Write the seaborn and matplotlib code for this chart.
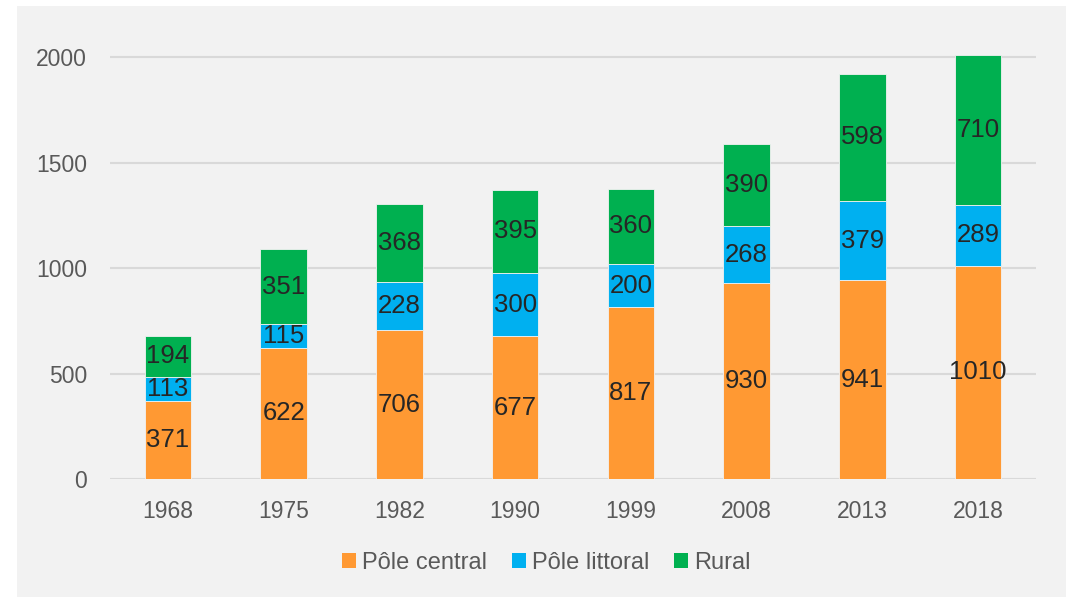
import matplotlib
matplotlib.use("Agg")
import matplotlib.pyplot as plt
from matplotlib.patches import Rectangle, Patch
import seaborn as sns
import pandas as pd

years = ["1968", "1975", "1982", "1990", "1999", "2008", "2013", "2018"]
pole_central = [371, 622, 706, 677, 817, 930, 941, 1010]
pole_littoral = [113, 115, 228, 300, 200, 268, 379, 289]
rural = [194, 351, 368, 395, 360, 390, 598, 710]
series_names = ["Pôle central", "Pôle littoral", "Rural"]
colors = ["#FF9933", "#00B0F0", "#00B050"]
yticks = [0, 500, 1000, 1500, 2000]

sns.set_theme(style="white")
plt.rcParams["font.family"] = ["Liberation Sans", "DejaVu Sans"]

fig = plt.figure(figsize=(10.71, 5.97), dpi=100)
fig.patch.set_facecolor("white")
bg = Rectangle((17 / 1071, 0), (1066 - 17) / 1071, 1 - 6 / 597,
               transform=fig.transFigure, facecolor="#F2F2F2", edgecolor="none", zorder=-10)
fig.patches.append(bg)

ax = fig.add_axes([110 / 1071, 1 - 479 / 597, (1036 - 110) / 1071, (479 - 36) / 597])
ax.set_facecolor("none")

df = pd.DataFrame({"year": years, "c": pole_central, "l": pole_littoral, "r": rural})
bottoms = [0] * len(years)
for key, col, name in zip(["c", "l", "r"], colors, series_names):
    sns.barplot(data=df, x="year", y=key, color=col, width=0.4, bottom=bottoms,
                ax=ax, saturation=1, edgecolor="#F2F2F2", linewidth=0.6, zorder=3)
    vals = df[key].tolist()
    for i, v in enumerate(vals):
        ax.text(i, bottoms[i] + v / 2, str(v), ha="center", va="center",
                fontsize=18.5, color="#262626", zorder=5)
    bottoms = [b + v for b, v in zip(bottoms, vals)]

ax.set_xlim(-0.5, len(years) - 0.5)
ax.set_ylim(0, 2100)
ax.set_yticks(yticks)
ax.set_yticklabels([str(t) for t in yticks])
for t in yticks:
    ax.axhline(t, color="#D9D9D9", linewidth=1.5, zorder=1)
ax.set_xlabel("")
ax.set_ylabel("")
for s in ax.spines.values():
    s.set_visible(False)
ax.tick_params(axis="both", length=0, labelsize=16.5, colors="#595959")
ax.tick_params(axis="x", pad=15)
ax.tick_params(axis="y", pad=16.5)

handles = [Patch(facecolor=c, edgecolor="none") for c in colors]
fig.legend(handles, series_names, loc="center", bbox_to_anchor=(546 / 1071, 1 - 563 / 597),
           ncol=3, frameon=False, fontsize=17, labelcolor="#595959",
           handlelength=0.6, handleheight=0.6, handletextpad=0.25, columnspacing=1.05)

fig.savefig("out.png", dpi=100, facecolor=fig.get_facecolor())
